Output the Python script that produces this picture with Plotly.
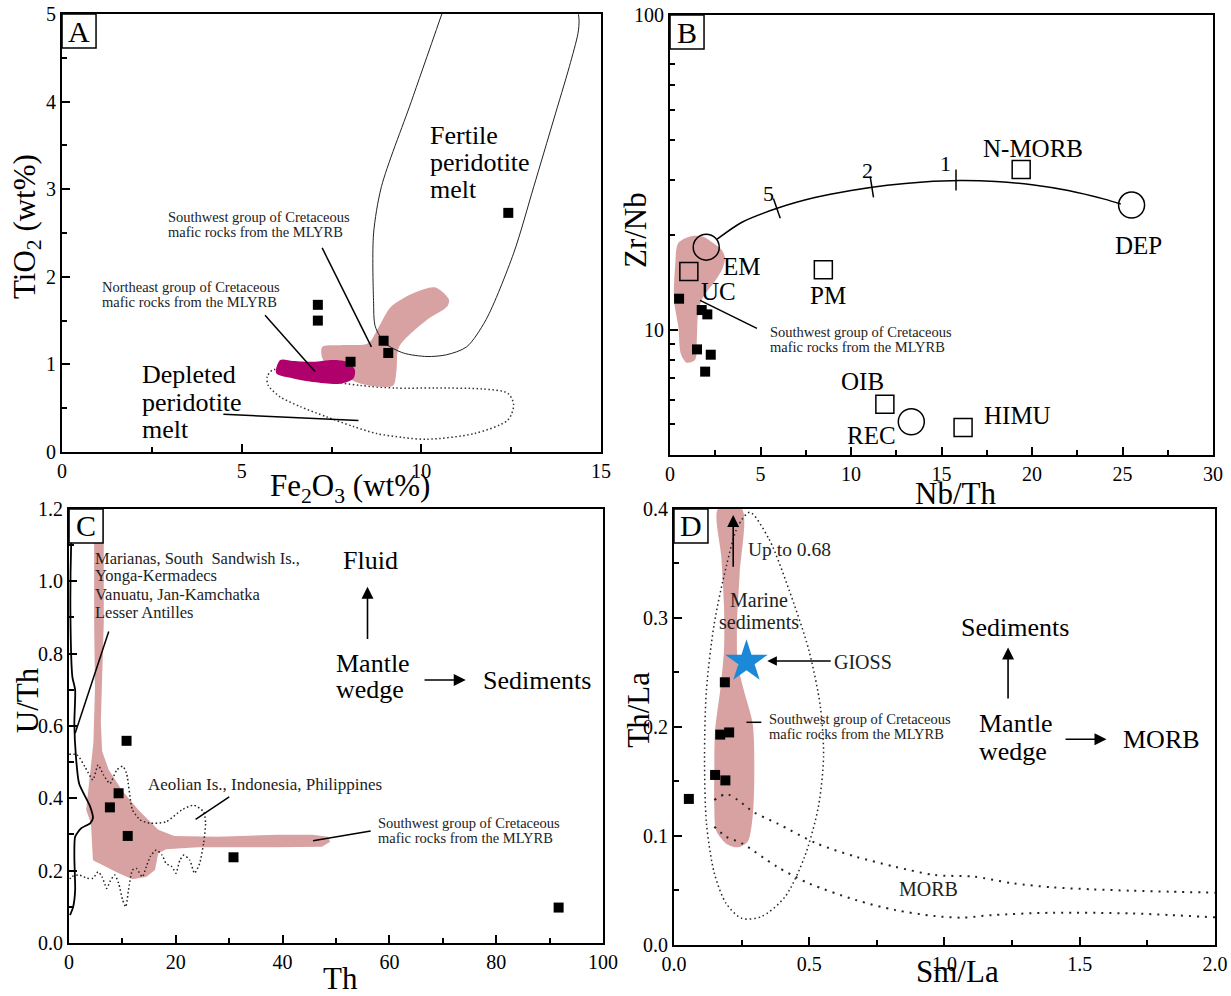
import numpy as np
import plotly.graph_objects as go

FONT = "Liberation Serif"
PINK = "#d9a2a2"
MAGENTA = "#b0006c"
BLUE = "#1b88d8"

# ---------------- Panel A: TiO2 vs Fe2O3 ----------------
a_fe2o3 = [7.12, 7.12, 8.03, 8.95, 9.08, 12.42]
a_tio2 = [1.68, 1.50, 1.03, 1.27, 1.13, 2.73]

a_fertile_x = [10.57, 9.72, 8.89, 8.67, 8.67, 8.72, 9.0, 9.5, 10.16, 10.7, 11.26, 11.8, 12.57, 13.13, 13.68, 14.12, 14.36, 14.39, 14.33]
a_fertile_y = [5.0, 4.0, 3.03, 2.49, 1.73, 1.43, 1.24, 1.13, 1.09, 1.11, 1.20, 1.51, 2.27, 3.03, 3.79, 4.40, 4.78, 4.93, 5.1]

a_depleted_x = [5.88, 5.71, 5.74, 6.07, 6.62, 7.37, 8.11, 8.76, 9.5, 10.16, 11.47, 12.41, 12.57, 12.41, 11.69, 10.38, 9.27, 8.29, 7.3, 6.5, 5.88]
a_depleted_y = [0.94, 0.86, 0.76, 0.63, 0.52, 0.40, 0.29, 0.21, 0.165, 0.145, 0.21, 0.365, 0.54, 0.67, 0.72, 0.73, 0.73, 0.76, 0.82, 0.89, 0.94]

a_sw_x = [7.24, 7.27, 8.18, 8.85, 9.22, 9.31, 9.38, 10.16, 10.72, 10.77, 10.38, 9.82, 9.16, 8.82, 8.52, 7.85, 7.24]
a_sw_y = [1.20, 1.05, 0.80, 0.745, 0.76, 0.94, 1.20, 1.51, 1.66, 1.74, 1.88, 1.82, 1.66, 1.43, 1.24, 1.22, 1.20]

a_ne_x = [6.07, 5.96, 6.44, 6.99, 7.74, 8.11, 8.15, 7.92, 7.55, 6.99, 6.44, 6.07]
a_ne_y = [1.05, 0.90, 0.84, 0.80, 0.78, 0.84, 0.94, 1.03, 1.05, 1.03, 1.04, 1.05]

# ---------------- Panel B: Zr/Nb vs Nb/Th ----------------
b_nbth = [0.50, 1.75, 2.06, 1.49, 2.25, 1.94]
b_zrnb = [12.55, 11.55, 11.19, 8.66, 8.33, 7.36]

b_sw_x = [1.20, 0.46, 0.28, 0.22, 0.46, 0.59, 0.92, 1.38, 1.48, 1.57, 1.84, 2.40, 2.86, 3.04, 2.86, 2.40, 1.84, 1.20]
b_sw_y = [19.85, 18.86, 15.86, 12.43, 10.22, 8.41, 7.86, 8.01, 9.27, 11.55, 12.73, 14.04, 15.48, 16.86, 17.92, 18.82, 19.75, 19.85]

b_mix_x = [2.6, 4.0, 6.0, 8.0, 10.0, 12.0, 14.0, 16.0, 18.0, 20.0, 22.0, 24.0, 24.9]
b_mix_y = [19.4, 22.0, 24.4, 26.3, 27.7, 28.8, 29.5, 29.8, 29.6, 28.9, 27.7, 26.0, 25.1]
b_mix_tick_x = [5.9, 11.15, 15.8]
b_mix_tick_y = [24.3, 28.4, 29.9]
b_mix_tick_angle = [-19, -9, 0]
b_mix_tick_text = ["5", "2", "1"]

b_sq_names = ["N-MORB", "UC", "PM", "OIB", "HIMU"]
b_sq_x = [19.4, 1.04, 8.47, 11.87, 16.19]
b_sq_y = [32.3, 15.3, 15.5, 5.8, 4.89]
b_ci_names = ["EM", "DEP", "REC"]
b_ci_x = [2.0, 25.5, 13.33]
b_ci_y = [18.3, 24.9, 5.1]

# ---------------- Panel C: U/Th vs Th ----------------
c_th = [10.77, 9.28, 7.65, 10.99, 30.8, 91.7]
c_uth = [0.559, 0.414, 0.375, 0.296, 0.237, 0.098]

c_sw_x = [4.7, 6.5, 6.5, 5.95, 6.2, 7.4, 10.0, 13.0, 16.7, 19.7, 27.8, 38.9, 45.6, 48.5, 48.9, 47.4, 38.9, 24.1, 18.2, 16.7, 16.1, 14.5, 11.9, 9.3, 4.47, 4.1, 3.2, 3.7, 4.55, 4.85, 4.7, 4.7]
c_sw_y = [1.2, 1.2, 0.885, 0.61, 0.53, 0.48, 0.42, 0.368, 0.313, 0.296, 0.294, 0.299, 0.299, 0.294, 0.28, 0.266, 0.265, 0.265, 0.259, 0.248, 0.202, 0.183, 0.176, 0.193, 0.229, 0.331, 0.368, 0.441, 0.552, 0.70, 0.885, 1.2]

c_arc_x = [0.45, 0.4, 0.26, 0.62, 1.14, 0.99, 1.29, 1.88, 3.95, 4.47, 3.95, 2.25, 1.14, 0.99, 1.14, 0.77, 0.18]
c_arc_y = [1.12, 1.105, 0.902, 0.736, 0.70, 0.607, 0.515, 0.441, 0.377, 0.345, 0.331, 0.317, 0.294, 0.239, 0.147, 0.10, 0.077]

c_aeol_x = [0.03, 1.51, 2.99, 4.47, 5.44, 6.47, 7.66, 8.92, 10.03, 10.77, 11.88, 13.36, 15.21, 18.17, 21.13, 23.35, 25.2, 25.57, 25.2, 24.46, 23.5, 22.61, 21.5, 20.76, 20.02, 19.28, 18.17, 17.43, 16.32, 15.21, 14.47, 13.73, 12.62, 11.88, 11.14, 10.62, 10.03, 9.29, 8.55, 7.66, 7.07, 6.18, 5.44, 4.47, 3.36, 1.88, 0.4, 0.03]
c_aeol_y = [0.522, 0.520, 0.487, 0.451, 0.492, 0.464, 0.441, 0.478, 0.489, 0.469, 0.368, 0.340, 0.331, 0.335, 0.368, 0.381, 0.363, 0.331, 0.276, 0.220, 0.193, 0.229, 0.243, 0.229, 0.193, 0.211, 0.220, 0.243, 0.257, 0.239, 0.211, 0.183, 0.206, 0.202, 0.147, 0.100, 0.119, 0.165, 0.188, 0.170, 0.151, 0.183, 0.197, 0.179, 0.179, 0.188, 0.183, 0.170]

# ---------------- Panel D: Th/La vs Sm/La ----------------
d_smla = [0.055, 0.152, 0.190, 0.171, 0.204, 0.188]
d_thla = [0.134, 0.156, 0.151, 0.193, 0.195, 0.241]
d_gloss_x = [0.268]
d_gloss_y = [0.260]

d_sw_x = [0.163, 0.175, 0.185, 0.185, 0.171, 0.152, 0.149, 0.149, 0.156, 0.193, 0.236, 0.273, 0.291, 0.297, 0.291, 0.258, 0.236, 0.233, 0.243, 0.251, 0.163]
d_sw_y = [0.400, 0.356, 0.310, 0.271, 0.234, 0.197, 0.157, 0.127, 0.105, 0.093, 0.0896, 0.095, 0.118, 0.157, 0.203, 0.234, 0.258, 0.295, 0.341, 0.400, 0.400]

d_marine_x = [0.280, 0.352, 0.425, 0.498, 0.541, 0.553, 0.534, 0.483, 0.410, 0.323, 0.251, 0.193, 0.149, 0.120, 0.113, 0.120, 0.149, 0.193, 0.236, 0.280]
d_marine_y = [0.397, 0.372, 0.326, 0.271, 0.219, 0.173, 0.127, 0.081, 0.044, 0.026, 0.0244, 0.038, 0.066, 0.112, 0.173, 0.234, 0.295, 0.347, 0.384, 0.397]

d_morb_up_x = [0.149, 0.193, 0.236, 0.294, 0.381, 0.527, 0.672, 0.817, 0.963, 1.108, 1.253, 1.398, 1.544, 1.689, 1.834, 2.0]
d_morb_up_y = [0.133, 0.1385, 0.133, 0.122, 0.1116, 0.0932, 0.0810, 0.0718, 0.0642, 0.0627, 0.0566, 0.0529, 0.0511, 0.0498, 0.0489, 0.048]
d_morb_lo_x = [0.149, 0.193, 0.251, 0.381, 0.498, 0.672, 0.817, 0.963, 1.064, 1.180, 1.398, 1.689, 1.834, 2.0]
d_morb_lo_y = [0.1085, 0.0994, 0.0933, 0.0718, 0.0566, 0.0413, 0.0321, 0.0266, 0.0251, 0.0275, 0.0296, 0.029, 0.0275, 0.0254]

fig = go.Figure()
ann = []
shapes = []


def poly(x, y, xa, ya, color, shape="spline", smooth=0.8):
    fig.add_trace(go.Scatter(x=x, y=y, xaxis=xa, yaxis=ya, mode="lines", fill="toself",
                             fillcolor=color, line=dict(width=0, color=color, shape=shape,
                                                        smoothing=smooth if shape == "spline" else None),
                             hoverinfo="skip", showlegend=False))


def line(x, y, xa, ya, width=1.5, dash="solid", color="black", shape="linear", smooth=0.8):
    fig.add_trace(go.Scatter(x=x, y=y, xaxis=xa, yaxis=ya, mode="lines",
                             line=dict(width=width, color=color, dash=dash, shape=shape,
                                       smoothing=smooth if shape == "spline" else None),
                             hoverinfo="skip", showlegend=False))


def squares(x, y, xa, ya):
    fig.add_trace(go.Scatter(x=x, y=y, xaxis=xa, yaxis=ya, mode="markers",
                             marker=dict(symbol="square", size=10, color="black"),
                             showlegend=False))


def txt(s, xr, yr, x, y, size, xanchor="center", color="black", log=False):
    ann.append(dict(text=s, xref=xr, yref=yr, x=x, y=(np.log10(y) if log else y), showarrow=False,
                    font=dict(family=FONT, size=size, color=color), xanchor=xanchor, yanchor="middle"))


def ptxt(s, x, y, size, angle=0):
    ann.append(dict(text=s, xref="paper", yref="paper", x=x, y=y, showarrow=False, textangle=angle,
                    font=dict(family=FONT, size=size, color="black"), xanchor="center", yanchor="middle"))


def arrow(xr, yr, x0, y0, x1, y1, size=1.5):
    ann.append(dict(x=x1, y=y1, ax=x0, ay=y0, xref=xr, yref=yr, axref=xr, ayref=yr, text="",
                    showarrow=True, arrowhead=2, arrowsize=size, arrowwidth=1.6, arrowcolor="black"))


def panel_label(s, xr, yr):
    shapes.append(dict(type="rect", xref=xr + " domain", yref=yr + " domain", xsizemode="pixel",
                       ysizemode="pixel", xanchor=0, yanchor=1, x0=0, x1=34, y0=0, y1=-34,
                       line=dict(color="black", width=1.5), fillcolor="white", layer="above"))
    ann.append(dict(text=s, xref=xr + " domain", yref=yr + " domain", x=0, y=1, xshift=17, yshift=-17,
                    showarrow=False, xanchor="center", yanchor="middle",
                    font=dict(family=FONT, size=30, color="black")))


# ----- Panel A -----
line(a_depleted_x, a_depleted_y, "x", "y", width=1.5, dash="1.5px,2.5px", color="#333", shape="spline")
poly(a_sw_x, a_sw_y, "x", "y", PINK)
poly(a_ne_x, a_ne_y, "x", "y", MAGENTA)
line(a_fertile_x, a_fertile_y, "x", "y", width=1, color="#222", shape="spline")
line([7.24, 8.61], [2.33, 1.20], "x", "y")
line([5.65, 7.04], [1.56, 0.92], "x", "y")
line([4.49, 8.25], [0.43, 0.36], "x", "y")
squares(a_fe2o3, a_tio2, "x", "y")
txt("Southwest group of Cretaceous", "x", "y", 2.89, 2.686, 14.5, "left", "#222")
txt("mafic rocks from the MLYRB", "x", "y", 2.89, 2.515, 14.5, "left", "#222")
txt("Northeast group of Cretaceous", "x", "y", 1.06, 1.887, 14.5, "left", "#222")
txt("mafic rocks from the MLYRB", "x", "y", 1.06, 1.716, 14.5, "left", "#222")
for s, yv in zip(["Fertile", "peridotite", "melt"], [3.61, 3.30, 3.00]):
    txt(s, "x", "y", 10.19, yv, 26, "left")
for s, yv in zip(["Depleted", "peridotite", "melt"], [0.88, 0.57, 0.26]):
    txt(s, "x", "y", 2.17, yv, 26, "left")
panel_label("A", "x", "y")

# ----- Panel B -----
poly(b_sw_x, b_sw_y, "x2", "y2", PINK)
line(b_mix_x, b_mix_y, "x2", "y2", width=1.5, shape="spline")
fig.add_trace(go.Scatter(x=b_mix_tick_x, y=b_mix_tick_y, xaxis="x2", yaxis="y2", mode="markers",
                         marker=dict(symbol="line-ns", size=15, angle=b_mix_tick_angle,
                                     line=dict(width=1.5, color="black")), showlegend=False))
fig.add_trace(go.Scatter(x=b_sq_x, y=b_sq_y, xaxis="x2", yaxis="y2", mode="markers",
                         marker=dict(symbol="square-open", size=18, color="black", line=dict(width=1.5)),
                         showlegend=False))
fig.add_trace(go.Scatter(x=b_ci_x, y=b_ci_y, xaxis="x2", yaxis="y2", mode="markers",
                         marker=dict(symbol="circle-open", size=26, color="black", line=dict(width=1.5)),
                         showlegend=False))
line([1.66, 4.8], [12.4, 10.1], "x2", "y2")
squares(b_nbth, b_zrnb, "x2", "y2")
for s, xv, yv in zip(b_mix_tick_text, [5.45, 10.9, 15.2], [1.434, 1.5075, 1.5297]):
    txt(s, "x2", "y2", xv, yv, 22)
b_label_pos = {"N-MORB": (20.07, 1.577), "DEP": (25.9, 1.269), "EM": (3.97, 1.200), "UC": (2.66, 1.121),
               "PM": (8.72, 1.110), "OIB": (10.65, 0.835), "REC": (11.15, 0.665), "HIMU": (19.2, 0.729)}
for s, (xv, yv) in b_label_pos.items():
    txt(s, "x2", "y2", xv, yv, 25)
txt("Southwest group of Cretaceous", "x2", "y2", 5.44, 0.9937, 14.5, "left", "#222")
txt("mafic rocks from the MLYRB", "x2", "y2", 5.44, 0.946, 14.5, "left", "#222")
panel_label("B", "x2", "y2")

# ----- Panel C -----
poly(c_sw_x, c_sw_y, "x3", "y3", PINK, shape="linear")
line(c_aeol_x, c_aeol_y, "x3", "y3", width=1.5, dash="1.5px,2.5px", color="#222", shape="spline", smooth=0.6)
line(c_arc_x, c_arc_y, "x3", "y3", width=1.8, shape="spline", smooth=0.6)
line([1.14, 7.43], [0.58, 0.861], "x3", "y3")
line([30.0, 23.7], [0.404, 0.342], "x3", "y3")
line([56.5, 45.7], [0.310, 0.283], "x3", "y3")
squares(c_th, c_uth, "x3", "y3")
for s, yv in zip(["Marianas, South  Sandwish Is.,", "Yonga-Kermadecs", "Vanuatu, Jan-Kamchatka", "Lesser Antilles"],
                 [1.064, 1.015, 0.964, 0.914]):
    txt(s, "x3", "y3", 4.48, yv, 16.5, "left", "#222")
txt("Aeolian Is., Indonesia, Philippines", "x3", "y3", 14.33, 0.437, 17, "left", "#222")
txt("Southwest group of Cretaceous", "x3", "y3", 57.55, 0.331, 14.5, "left", "#222")
txt("mafic rocks from the MLYRB", "x3", "y3", 57.55, 0.2895, 14.5, "left", "#222")
txt("Fluid", "x3", "y3", 56.4, 1.057, 26)
txt("Mantle", "x3", "y3", 49.6, 0.773, 26, "left")
txt("wedge", "x3", "y3", 49.6, 0.70, 26, "left")
txt("Sediments", "x3", "y3", 87.7, 0.727, 26)
arrow("x3", "y3", 55.9, 0.836, 55.9, 0.985)
arrow("x3", "y3", 66.3, 0.727, 74.3, 0.727)
panel_label("C", "x3", "y3")

# ----- Panel D -----
poly(d_sw_x, d_sw_y, "x4", "y4", PINK)
line(d_marine_x, d_marine_y, "x4", "y4", width=1.5, dash="1.5px,3px", color="#222", shape="spline")
line(d_morb_up_x, d_morb_up_y, "x4", "y4", width=2, dash="2px,6px", color="#222", shape="spline")
line(d_morb_lo_x, d_morb_lo_y, "x4", "y4", width=2, dash="2px,6px", color="#222", shape="spline")
line([0.268, 0.323], [0.2043, 0.2043], "x4", "y4")
squares(d_smla, d_thla, "x4", "y4")
fig.add_trace(go.Scatter(x=d_gloss_x, y=d_gloss_y, xaxis="x4", yaxis="y4", mode="markers",
                         marker=dict(symbol="star", size=32, color=BLUE, line=dict(width=0)),
                         showlegend=False))
txt("Up to 0.68", "x4", "y4", 0.265, 0.363, 19.5, "left", "#222")
txt("Marine", "x4", "y4", 0.316, 0.3165, 20, "center", "#222")
txt("sediments", "x4", "y4", 0.316, 0.2966, 20, "center", "#222")
txt("GIOSS", "x4", "y4", 0.585, 0.26, 20, "left", "#222")
txt("Southwest group of Cretaceous", "x4", "y4", 0.345, 0.2073, 14.5, "left", "#222")
txt("mafic rocks from the MLYRB", "x4", "y4", 0.345, 0.1936, 14.5, "left", "#222")
txt("MORB", "x4", "y4", 0.94, 0.0511, 20, "center", "#222")
txt("Sediments", "x4", "y4", 1.26, 0.291, 26)
txt("Mantle", "x4", "y4", 1.122, 0.2034, 26, "left")
txt("wedge", "x4", "y4", 1.122, 0.1773, 26, "left")
txt("MORB", "x4", "y4", 1.802, 0.1887, 26)
arrow("x4", "y4", 0.219, 0.3455, 0.219, 0.3945)
arrow("x4", "y4", 0.585, 0.2605, 0.345, 0.2605, size=1.2)
arrow("x4", "y4", 1.235, 0.2248, 1.235, 0.273)
arrow("x4", "y4", 1.442, 0.1887, 1.599, 0.1887)
panel_label("D", "x4", "y4")

# ----- axis titles -----
ptxt("Fe<sub>2</sub>O<sub>3</sub> (wt%)", 0.2843, 0.510, 31)
ptxt("TiO<sub>2</sub> (wt%)", 0.0219, 0.773, 31, -90)
ptxt("Nb/Th", 0.7758, 0.505, 31)
ptxt("Zr/Nb", 0.5158, 0.769, 31, -90)
ptxt("Th", 0.277, 0.018, 31)
ptxt("U/Th", 0.0219, 0.297, 31, -90)
ptxt("Sm/La", 0.7776, 0.0244, 31)
ptxt("Th/La", 0.518, 0.287, 31, -90)


def ax(domain, anchor, rng, dtick, minor_dtick, fmt=None, log=False):
    d = dict(domain=domain, anchor=anchor, range=rng, showline=True, linecolor="black", linewidth=2,
             mirror=True, ticks="inside", ticklen=8, tickwidth=1.5, tickcolor="black", showgrid=False,
             zeroline=False, tickfont=dict(family=FONT, size=20, color="black"), fixedrange=True,
             automargin=False)
    if log:
        d.update(type="log", tickvals=[10, 100], ticktext=["10", "100"],
                 minor=dict(ticks="inside", ticklen=5, tickwidth=1.5, tickcolor="black", showgrid=False,
                            tickvals=[4, 5, 6, 7, 8, 9, 20, 30, 40, 50, 60, 70, 80, 90]))
    else:
        d.update(dtick=dtick, tick0=0,
                 minor=dict(ticks="inside", ticklen=5, tickwidth=1.5, tickcolor="black", showgrid=False,
                            dtick=minor_dtick, tick0=0))
    if fmt:
        d["tickformat"] = fmt
    return d


fig.update_layout(
    width=1231, height=996, margin=dict(l=0, r=0, t=0, b=0, autoexpand=False),
    paper_bgcolor="white", plot_bgcolor="white", showlegend=False,
    font=dict(family=FONT, color="black"),
    xaxis=ax([0.0504, 0.4882], "y", [0, 15], 5, 2.5),
    yaxis=ax([0.5462, 0.9859], "x", [0, 5], 1, 0.5),
    xaxis2=ax([0.5443, 0.9854], "y2", [0, 30], 5, 2.5),
    yaxis2=ax([0.5432, 0.9849], "x2", [np.log10(4), 2], None, None, log=True),
    xaxis3=ax([0.0561, 0.4898], "y3", [0, 100], 20, 10),
    yaxis3=ax([0.0532, 0.4890], "x3", [0, 1.2], 0.2, 0.1, fmt=".1f"),
    xaxis4=ax([0.5475, 0.9870], "y4", [0, 2], 0.5, 0.25, fmt=".1f"),
    yaxis4=ax([0.0512, 0.4890], "x4", [0, 0.4], 0.1, 0.05, fmt=".1f"),
    annotations=ann, shapes=shapes,
)

fig.write_html("out.html", post_script="document.body.style.margin='0px';document.body.style.overflow='hidden';")
